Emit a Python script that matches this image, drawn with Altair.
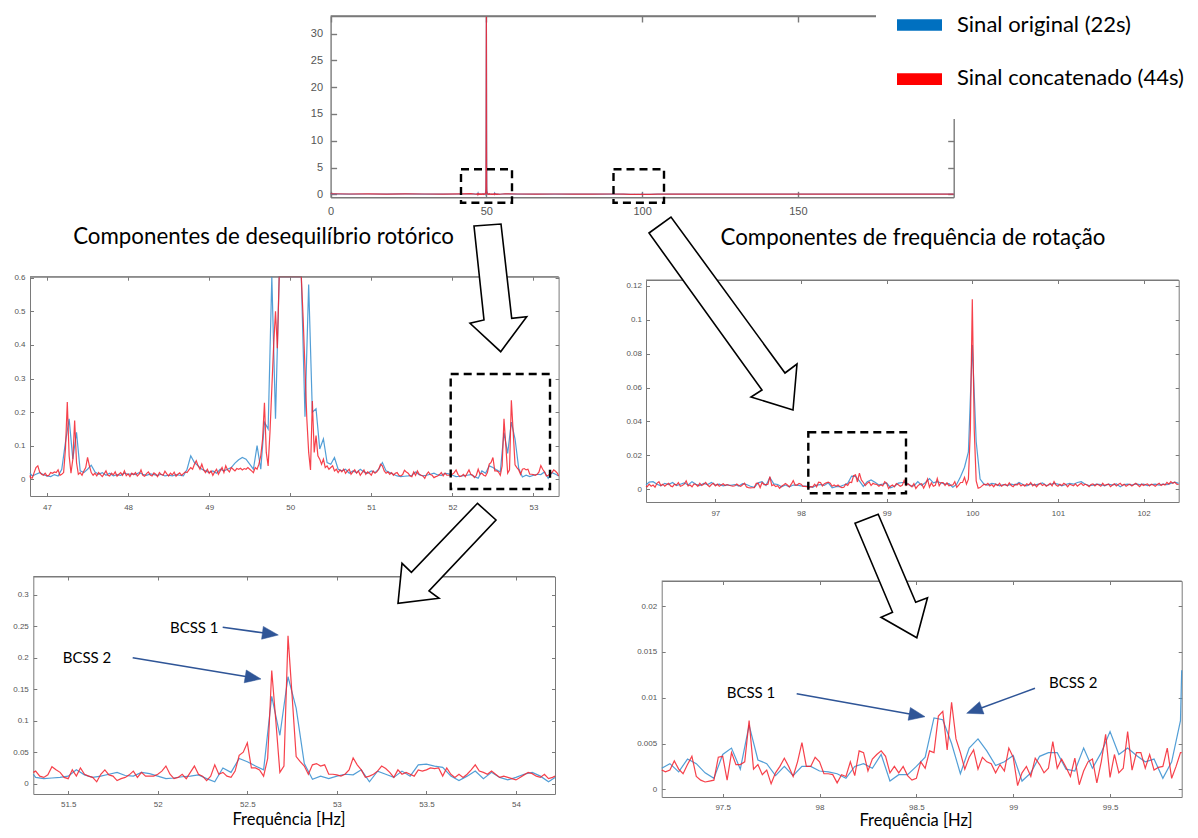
import altair as alt
import pandas as pd

W, H = 1182, 822
M = 8  # page margin: reference pixel -> canvas pixel

BLUE = "#3F93D2"
RED = "#F4202C"
FRAME = "#7A7A7A"
LABEL = "#555555"
NAVY = "#2F5597"

# ---------------- spectra ----------------
# blue: original signal (22 s)  -> bins at k/22 Hz
# red : concatenated signal (44 s) -> bins at k/44 Hz
BLUE_BINS_PER_HZ = 22.0
RED_BINS_PER_HZ = 44.0

blue_left_a_k0 = 1029
blue_left_a = [
    0.018, 0.010, 0.015, 0.020, 0.014, 0.010, 0.008, 0.014, 0.010, 0.030,
    0.110, 0.180, 0.060, 0.140, 0.025, 0.020, 0.030, 0.042, 0.022, 0.015,
    0.020, 0.012, 0.018, 0.010, 0.014, 0.012, 0.018, 0.015, 0.016, 0.014,
    0.020, 0.015, 0.012, 0.016, 0.014, 0.012, 0.015, 0.010, 0.012, 0.010,
    0.014, 0.012, 0.010, 0.030, 0.070, 0.050, 0.040, 0.030, 0.025, 0.020,
    0.025, 0.018, 0.030, 0.025, 0.030, 0.035, 0.048, 0.058, 0.065, 0.060,
    0.045, 0.030, 0.100, 0.030, 0.170, 0.150, 0.900, 0.180, 4.0, 12.0,
    25.0, 33.0, 22.0, 8.0, 1.5, 0.186, 0.580, 0.200, 0.210, 0.090,
    0.120, 0.050, 0.045, 0.065, 0.030, 0.025, 0.030, 0.018, 0.025, 0.020,
    0.030, 0.022, 0.018, 0.025, 0.020, 0.030, 0.050, 0.025, 0.020, 0.015,
]
blue_left_b_k0 = 1129
blue_left_b = [
    0.010, 0.008, 0.009, 0.010, 0.012, 0.022, 0.014, 0.010, 0.012, 0.015,
    0.018, 0.013, 0.012, 0.018, 0.016, 0.012, 0.008, 0.009, 0.011, 0.012,
    0.014, 0.008, 0.003, 0.025, 0.018, 0.040, 0.035, 0.028, 0.022, 0.139,
    0.077, 0.170, 0.120, 0.032, 0.007, 0.012, 0.008, 0.012, 0.015, 0.014,
    0.022, 0.003, 0.020, 0.015, 0.010, 0.020, 0.012, 0.030, 0.031, 0.028,
    0.026, 0.012, 0.005, 0.012, 0.020, 0.008, 0.018, 0.010, 0.006, 0.010,
    0.015, 0.018, 0.012, 0.003, 0.010,
]
red_left_a_k0 = 2058
red_left_a = [
    0.012, 0.005, 0.004, 0.020, 0.035, 0.040, 0.022, 0.015, 0.012, 0.018,
    0.010, 0.012, 0.020, 0.018, 0.022, 0.020, 0.028, 0.012, 0.015,
    0.020, 0.090, 0.230, 0.070, 0.018, 0.060, 0.175, 0.050, 0.015, 0.020,
    0.012, 0.025, 0.035, 0.065, 0.040, 0.020,
    0.012, 0.018, 0.010, 0.020, 0.014, 0.008, 0.016, 0.025, 0.012, 0.010,
    0.018, 0.013, 0.022, 0.009, 0.015, 0.020, 0.012, 0.025, 0.011, 0.016,
    0.008, 0.018, 0.014, 0.020, 0.010, 0.015, 0.028, 0.012, 0.009, 0.017,
    0.022, 0.013, 0.010, 0.019, 0.015, 0.008, 0.020, 0.014, 0.012, 0.024,
    0.016, 0.010, 0.018, 0.013, 0.021, 0.009, 0.015, 0.019, 0.012, 0.017,
    0.022,
    0.020, 0.028, 0.035, 0.030, 0.045, 0.055, 0.040, 0.030, 0.045, 0.028,
    0.020, 0.030, 0.018, 0.025, 0.012, 0.022, 0.030, 0.015, 0.025, 0.035,
    0.020, 0.040, 0.028, 0.022, 0.035, 0.030, 0.025, 0.032, 0.030, 0.033,
    0.028, 0.032, 0.030, 0.035, 0.030, 0.025, 0.020, 0.035, 0.030, 0.045,
    0.070, 0.120, 0.228, 0.080,
    0.040, 0.140, 0.270, 0.400, 0.500, 0.390, 2.0, 4.0, 8.0, 14.0,
    22.0, 30.0, 36.0, 30.0, 20.0, 10.0, 5.0, 1.5, 0.650, 0.480,
    0.330, 0.180, 0.080, 0.028, 0.233,
    0.080, 0.130, 0.070, 0.060, 0.045, 0.060, 0.035, 0.040, 0.030, 0.035,
    0.040, 0.025, 0.030, 0.020, 0.028, 0.022, 0.030, 0.018, 0.025, 0.030,
    0.015, 0.022, 0.028, 0.018, 0.025, 0.012, 0.020, 0.028, 0.015, 0.022,
    0.018, 0.012, 0.025, 0.018, 0.022, 0.030, 0.045, 0.040, 0.025, 0.018,
    0.022, 0.015, 0.020, 0.012, 0.018,
]
red_left_b_k0 = 2258
red_left_b = [
    0.020, 0.012, 0.010, 0.014, 0.027, 0.022, 0.018, 0.010, 0.008, 0.022,
    0.012, 0.025, 0.015, 0.012, 0.010, 0.003, 0.015, 0.022, 0.014, 0.012,
    0.005, 0.008, 0.010, 0.014, 0.020, 0.010, 0.018, 0.012, 0.012, 0.012,
    0.015, 0.020, 0.028, 0.015, 0.008, 0.010, 0.015, 0.008, 0.018, 0.028,
    0.015, 0.012, 0.005, 0.012, 0.030, 0.015, 0.018, 0.012, 0.010, 0.020,
    0.045, 0.050, 0.065, 0.025, 0.025, 0.022, 0.012, 0.040, 0.180, 0.100,
    0.018, 0.028, 0.235, 0.140, 0.043, 0.035, 0.028,
    0.015, 0.030, 0.032, 0.028, 0.030, 0.015, 0.015, 0.014, 0.012, 0.015,
    0.022, 0.041, 0.030, 0.022, 0.010, 0.012, 0.015, 0.020, 0.028, 0.024,
    0.018, 0.010, 0.022, 0.015, 0.018, 0.015, 0.012, 0.022, 0.020, 0.022,
    0.025, 0.024, 0.025, 0.012, 0.025, 0.015, 0.010, 0.015, 0.010, 0.015,
    0.022, 0.030, 0.020, 0.018, 0.015, 0.020, 0.015, 0.010, 0.012, 0.010,
    0.008, 0.006, 0.010, 0.014, 0.018, 0.016, 0.012, 0.010, 0.015, 0.008,
    0.010, 0.012,
]

blue_right_a_k0 = 2116
blue_right_a = [
    0.0025, 0.0042, 0.0045, 0.0030, 0.0020, 0.0035, 0.0028, 0.0040, 0.0022, 0.0030,
    0.0038, 0.0025, 0.0045, 0.0030, 0.0022, 0.0035, 0.0028, 0.0040, 0.0025, 0.0030,
    0.0020, 0.0026,
]
blue_right_b_k0 = 2138
blue_right_b = [
    0.0023, 0.0028, 0.0019, 0.0033, 0.0028, 0.0018, 0.0012, 0.0038, 0.0045, 0.0022,
    0.0070, 0.0032, 0.0028, 0.0015, 0.0025, 0.0015, 0.0025, 0.0025, 0.0020, 0.0019,
    0.0017, 0.0012, 0.0025, 0.0028, 0.0023, 0.0038, 0.0009, 0.0016, 0.0016, 0.0025,
    0.0035, 0.0078, 0.0076, 0.0050, 0.0017, 0.0045, 0.0055, 0.0042, 0.0026, 0.0030,
    0.0037, 0.0009, 0.0018, 0.0036, 0.0040, 0.0040, 0.0022, 0.0020, 0.0045, 0.0023,
    0.0040, 0.0063, 0.0038, 0.0045, 0.0037, 0.0030, 0.0033, 0.0012, 0.0030, 0.0075,
]
blue_right_c_k0 = 2198
blue_right_c = [
    0.0130, 0.0220, 0.0850, 0.0280, 0.0060, 0.0030, 0.0025, 0.0035, 0.0030, 0.0020,
    0.0028, 0.0022, 0.0030, 0.0025, 0.0040, 0.0028, 0.0020, 0.0032, 0.0025, 0.0030,
    0.0038, 0.0022, 0.0028, 0.0035, 0.0030, 0.0020, 0.0028, 0.0035, 0.0030, 0.0040,
    0.0045, 0.0030, 0.0022, 0.0025, 0.0030, 0.0028, 0.0020, 0.0030, 0.0025, 0.0032,
    0.0015, 0.0028, 0.0030, 0.0025, 0.0032, 0.0028, 0.0030, 0.0022, 0.0028, 0.0030,
    0.0025, 0.0030, 0.0028, 0.0035, 0.0042, 0.0035,
]
red_right_a_k0 = 4232
red_right_a = [
    0.0020, 0.0015, 0.0030, 0.0018, 0.0025, 0.0012, 0.0035, 0.0045, 0.0022, 0.0030,
    0.0018, 0.0028, 0.0035, 0.0020, 0.0015, 0.0030, 0.0025, 0.0040, 0.0018, 0.0022,
    0.0030, 0.0050, 0.0020, 0.0025, 0.0015, 0.0032, 0.0028, 0.0018, 0.0035, 0.0022,
    0.0030, 0.0040, 0.0025, 0.0015, 0.0028, 0.0035, 0.0020, 0.0030, 0.0018, 0.0025,
    0.0032, 0.0022, 0.0028, 0.0024,
]
red_right_b_k0 = 4276
red_right_b = [
    0.0021, 0.0019, 0.0021, 0.0031, 0.0022, 0.0017, 0.0027, 0.0036, 0.0014, 0.0010,
    0.0008, 0.0009, 0.0010, 0.0035, 0.0036, 0.0010, 0.0040, 0.0027, 0.0027, 0.0030,
    0.0075, 0.0022, 0.0027, 0.0016, 0.0021, 0.0006, 0.0018, 0.0025, 0.0034, 0.0025,
    0.0014, 0.0030, 0.0051, 0.0025, 0.0025, 0.0035, 0.0030, 0.0017, 0.0017, 0.0016,
    0.0007, 0.0016, 0.0014, 0.0030, 0.0015, 0.0042, 0.0040, 0.0020, 0.0033, 0.0038,
    0.0042, 0.0036,
    0.0018, 0.0025, 0.0018, 0.0025, 0.0015, 0.0010, 0.0012, 0.0030, 0.0023, 0.0042,
    0.0040, 0.0080, 0.0085, 0.0043, 0.0095, 0.0055, 0.0040, 0.0022, 0.0035, 0.0043,
    0.0022, 0.0035, 0.0030, 0.0028, 0.0018, 0.0027, 0.0020, 0.0045, 0.0035, 0.0004,
    0.0018, 0.0025, 0.0014, 0.0034, 0.0027, 0.0018, 0.0023, 0.0052, 0.0023, 0.0033,
    0.0024, 0.0014, 0.0034, 0.0005, 0.0020, 0.0030, 0.0033, 0.0007, 0.0030, 0.0060,
    0.0013, 0.0038, 0.0018, 0.0023, 0.0063, 0.0021, 0.0040, 0.0040, 0.0023, 0.0038,
    0.0021, 0.0024, 0.0025, 0.0045, 0.0012, 0.0025, 0.0040,
]
red_right_c_k0 = 4395
red_right_c = [
    0.0040, 0.0070, 0.0030, 0.0060, 0.0350, 0.1120, 0.0350, 0.0050, 0.0006, 0.0010,
    0.0020,
    0.0030, 0.0025, 0.0035, 0.0020, 0.0028, 0.0015, 0.0030, 0.0022, 0.0035, 0.0018,
    0.0025, 0.0030, 0.0020, 0.0038, 0.0022, 0.0015, 0.0030, 0.0025, 0.0035, 0.0020,
    0.0028, 0.0018, 0.0032, 0.0025, 0.0040, 0.0020, 0.0030, 0.0015, 0.0028, 0.0035,
    0.0022, 0.0030, 0.0018, 0.0025, 0.0035, 0.0020, 0.0045, 0.0025, 0.0018, 0.0030,
    0.0022, 0.0035, 0.0028, 0.0015, 0.0030, 0.0025, 0.0020, 0.0032, 0.0018, 0.0028,
    0.0035, 0.0022, 0.0030, 0.0025, 0.0015, 0.0028, 0.0032, 0.0020, 0.0030, 0.0025,
    0.0018, 0.0035, 0.0022, 0.0028, 0.0030, 0.0015, 0.0025, 0.0032, 0.0020, 0.0028,
    0.0035, 0.0022, 0.0030, 0.0018, 0.0025, 0.0030, 0.0020, 0.0028, 0.0035, 0.0025,
    0.0015, 0.0030, 0.0022, 0.0028, 0.0032, 0.0020, 0.0030, 0.0025, 0.0018, 0.0028,
    0.0035, 0.0022, 0.0030, 0.0025, 0.0040, 0.0030, 0.0045, 0.0035, 0.0042, 0.0030,
    0.0028,
]

# sparse background of the full 0-200 Hz spectrum (outside the zoomed bands)
top_bg_freq = [0, 6, 12, 18, 24, 30, 36, 42, 45, 56, 60, 66, 72, 78, 84, 90, 94,
               105, 110, 116, 122, 128, 134, 140, 146, 152, 158, 164, 170, 176,
               182, 188, 194, 200]
top_bg_blue = [0.08, 0.05, 0.06, 0.04, 0.07, 0.05, 0.04, 0.06, 0.09, 0.08, 0.05,
               0.04, 0.05, 0.03, 0.04, 0.05, 0.04, 0.04, 0.03, 0.04, 0.03, 0.04,
               0.03, 0.04, 0.03, 0.03, 0.04, 0.03, 0.04, 0.03, 0.03, 0.04, 0.03, 0.03]
top_bg_red = [0.10, 0.06, 0.08, 0.05, 0.09, 0.06, 0.05, 0.08, 0.12, 0.10, 0.06,
              0.05, 0.06, 0.04, 0.05, 0.06, 0.05, 0.05, 0.04, 0.05, 0.04, 0.05,
              0.04, 0.05, 0.04, 0.04, 0.05, 0.04, 0.05, 0.04, 0.04, 0.05, 0.04, 0.04]


def segment(k0, vals, per_hz):
    return [((k0 + i) / per_hz, v) for i, v in enumerate(vals)]


blue_pts = sorted(
    segment(blue_left_a_k0, blue_left_a, BLUE_BINS_PER_HZ)
    + segment(blue_left_b_k0, blue_left_b, BLUE_BINS_PER_HZ)
    + segment(blue_right_a_k0, blue_right_a, BLUE_BINS_PER_HZ)
    + segment(blue_right_b_k0, blue_right_b, BLUE_BINS_PER_HZ)
    + segment(blue_right_c_k0, blue_right_c, BLUE_BINS_PER_HZ)
)
red_pts = sorted(
    segment(red_left_a_k0, red_left_a, RED_BINS_PER_HZ)
    + segment(red_left_b_k0, red_left_b, RED_BINS_PER_HZ)
    + segment(red_right_a_k0, red_right_a, RED_BINS_PER_HZ)
    + segment(red_right_b_k0, red_right_b, RED_BINS_PER_HZ)
    + segment(red_right_c_k0, red_right_c, RED_BINS_PER_HZ)
)
blue_top = sorted(blue_pts + list(zip(top_bg_freq, top_bg_blue)))
red_top = sorted(red_pts + list(zip(top_bg_freq, top_bg_red)))


def window(pts, d0, d1):
    idx = [i for i, (f, _) in enumerate(pts) if d0 <= f <= d1]
    i0 = max(idx[0] - 1, 0)
    i1 = min(idx[-1] + 2, len(pts))
    sub = pts[i0:i1]
    return pd.DataFrame({"f": [p[0] for p in sub], "v": [p[1] for p in sub]})


# ---------------- panels (reference pixel geometry) ----------------
panels = [
    dict(blue=blue_top, red=red_top, xd=[0, 200], xr=[330.6, 953.7],
         yd=[-0.56, 33.27], yr=[197.3, 16.0],
         xt=[0, 50, 100, 150], yt=[0, 5, 10, 15, 20, 25, 30],
         fs=11, xpad=8, ypad=8, ts=6, fw=1.4),
    dict(blue=blue_pts, red=red_pts, xd=[46.79, 53.31], xr=[30.0, 558.6],
         yd=[-0.0497, 0.603], yr=[496.0, 276.7],
         xt=[47, 48, 49, 50, 51, 52, 53], yt=[0, 0.1, 0.2, 0.3, 0.4, 0.5, 0.6],
         fs=8, xpad=7, ypad=5, ts=3.5, fw=1),
    dict(blue=blue_pts, red=red_pts, xd=[96.19, 102.41], xr=[646.0, 1178.7],
         yd=[-0.0075, 0.1234], yr=[502.0, 280.0],
         xt=[97, 98, 99, 100, 101, 102], yt=[0, 0.02, 0.04, 0.06, 0.08, 0.1, 0.12],
         fs=8, xpad=7, ypad=4.5, ts=3.5, fw=1),
    dict(blue=blue_pts, red=red_pts, xd=[51.305, 54.218], xr=[33.3, 555.0],
         yd=[-0.0164, 0.3294], yr=[794.0, 576.5],
         xt=[51.5, 52, 52.5, 53, 53.5, 54], yt=[0, 0.05, 0.1, 0.15, 0.2, 0.25, 0.3],
         fs=8, xpad=6, ypad=5, ts=3.5, fw=1),
    dict(blue=blue_pts, red=red_pts, xd=[97.185, 99.87], xr=[661.7, 1181.7],
         yd=[-0.00084, 0.02274], yr=[797.0, 581.0],
         xt=[97.5, 98, 98.5, 99, 99.5], yt=[0, 0.005, 0.01, 0.015, 0.02],
         fs=8, xpad=6, ypad=5, ts=3.5, fw=1),
]


def panel_layers(p):
    x0, x1 = p["xr"][0] - M, p["xr"][1] - M
    yb, yt = p["yr"][0] - M, p["yr"][1] - M
    xs = alt.Scale(domain=p["xd"], range=[x0, x1], clamp=True, zero=False, nice=False)
    ys = alt.Scale(domain=p["yd"], range=[yb, yt], clamp=True, zero=False, nice=False)
    base = dict(title=None, grid=False, format=".6~g", labelFlush=False, labelOverlap=False,
                domainColor=FRAME, tickColor=FRAME, domainWidth=p["fw"], tickWidth=p["fw"],
                labelColor=LABEL, labelFont="Liberation Sans", labelFontSize=p["fs"])
    lab_x = alt.Axis(orient="bottom", offset=yb - H, values=p["xt"], ticks=False,
                     domain=False, labelPadding=p["xpad"], **base)
    lab_y = alt.Axis(orient="left", offset=-x0, values=p["yt"], ticks=False,
                     domain=False, labelPadding=p["ypad"], **base)
    tk = dict(labels=False, ticks=True, tickSize=p["ts"], domain=True)
    bot = alt.Axis(orient="top", offset=-yb, values=p["xt"], **tk, **base)
    lef = alt.Axis(orient="right", offset=x0 - W, values=p["yt"], **tk, **base)
    top = alt.Axis(orient="bottom", offset=yt - H, values=p["xt"], **tk, **base)
    rig = alt.Axis(orient="left", offset=-x1, values=p["yt"], **tk, **base)

    lb = alt.Chart(window(p["blue"], *p["xd"])).mark_line(
        color=BLUE, strokeWidth=1.2, opacity=0.9).encode(
        x=alt.X("f:Q", scale=xs, axis=lab_x), y=alt.Y("v:Q", scale=ys, axis=lab_y))
    lr = alt.Chart(window(p["red"], *p["xd"])).mark_line(
        color=RED, strokeWidth=1.2, opacity=0.85).encode(
        x=alt.X("f:Q", scale=xs, axis=bot), y=alt.Y("v:Q", scale=ys, axis=lef))
    fr = alt.Chart(pd.DataFrame({"a": [p["xd"][0]], "b": [p["xd"][1]], "c": [p["yd"][1]]})).mark_rule(
        color=FRAME, strokeWidth=p["fw"]).encode(
        x=alt.X("a:Q", scale=xs, axis=top), x2="b:Q", y=alt.Y("c:Q", scale=ys, axis=rig))
    return [lb, lr, fr]


layers = []
for p in panels:
    layers += panel_layers(p)

# ---------------- annotations (pixel positions in the reference) ----------------
def px(v):
    return v - M


def pos(field):
    return alt.X(field, scale=None, axis=None)


def posy(field):
    return alt.Y(field, scale=None, axis=None)


boxes = pd.DataFrame({
    "x": [px(461), px(613.5), px(450.7), px(808.3)],
    "x2": [px(512), px(664), px(550), px(906)],
    "y": [px(169.3), px(169.3), px(374), px(432.3)],
    "y2": [px(202.7), px(202.7), px(489), px(493.3)],
})
layers.append(alt.Chart(boxes).mark_rect(filled=False, stroke="black", strokeWidth=2.4,
                                          strokeDash=[8, 5]).encode(
    x=pos("x:Q"), x2="x2:Q", y=posy("y:Q"), y2="y2:Q"))

# white legend backdrop over the top-right corner of the frame
legbg = pd.DataFrame({"x": [px(876)], "x2": [W], "y": [0], "y2": [px(119)]})
layers.append(alt.Chart(legbg).mark_rect(color="white").encode(
    x=pos("x:Q"), x2="x2:Q", y=posy("y:Q"), y2="y2:Q"))

swatch = pd.DataFrame({
    "x": [px(897), px(897)], "x2": [px(942), px(942)],
    "y": [px(19.3), px(73.3)], "y2": [px(30.7), px(85)],
    "c": ["#0070C0", "#FF0000"],
})
layers.append(alt.Chart(swatch).mark_rect().encode(
    x=pos("x:Q"), x2="x2:Q", y=posy("y:Q"), y2="y2:Q",
    color=alt.Color("c:N", scale=None, legend=None)))


def poly_path(pts):
    return "M" + " L".join(f"{px(a):.1f},{px(b):.1f}" for a, b in pts) + " Z"


block_arrows = [
    [(474, 226), (501, 224), (511.7, 318.3), (526.7, 316.7), (500.7, 351.7), (470, 323.3), (484, 320)],
    [(649, 233), (671, 217), (785, 373), (797, 364), (793, 410), (751, 397), (762, 390)],
    [(477.5, 503.3), (496, 520), (429, 591), (439, 598.3), (398, 603.3), (402, 563.3), (411.4, 572.3)],
    [(855, 523.3), (878.2, 514.3), (915.7, 602.3), (927.5, 597.7), (916.8, 637.7), (881, 617.3), (892.5, 612.3)],
]
arr = pd.DataFrame({"x": [0] * 4, "y": [0] * 4, "path": [poly_path(a) for a in block_arrows]})
layers.append(alt.Chart(arr).mark_point(filled=True, fill="white", stroke="black", strokeWidth=1.6,
                                         size=4, opacity=1).encode(
    x=pos("x:Q"), y=posy("y:Q"), shape=alt.Shape("path:N", scale=None, legend=None)))

# BCSS pointer arrows: (start, tip)
pointers = [
    ((222.7, 627.3), (278.3, 635.0)),
    ((132.7, 657.7), (261.0, 679.0)),
    ((796.7, 693.7), (925.0, 716.7)),
    ((1035.0, 688.3), (966.7, 713.3)),
]
HL, HW = 16.0, 6.5
rules, heads = [], []
for (sx, sy), (tx, ty) in pointers:
    dx, dy = tx - sx, ty - sy
    n = (dx * dx + dy * dy) ** 0.5
    ux, uy = dx / n, dy / n
    bx, by = tx - ux * HL, ty - uy * HL
    rules.append((px(sx), px(sy), px(bx + ux * 2), px(by + uy * 2)))
    c1 = (bx - uy * HW, by + ux * HW)
    c2 = (bx + uy * HW, by - ux * HW)
    heads.append(poly_path([(tx, ty), c1, c2]))
rdf = pd.DataFrame(rules, columns=["x", "y", "x2", "y2"])
layers.append(alt.Chart(rdf).mark_rule(color=NAVY, strokeWidth=1.6).encode(
    x=pos("x:Q"), y=posy("y:Q"), x2="x2:Q", y2="y2:Q"))
hdf = pd.DataFrame({"x": [0] * 4, "y": [0] * 4, "path": heads})
layers.append(alt.Chart(hdf).mark_point(filled=True, fill=NAVY, stroke=NAVY, strokeWidth=0.5,
                                         size=4, opacity=1).encode(
    x=pos("x:Q"), y=posy("y:Q"), shape=alt.Shape("path:N", scale=None, legend=None)))


def text_layer(rows, size, align):
    df = pd.DataFrame(rows, columns=["t", "x", "y"])
    df["x"] = df["x"] - M
    df["y"] = df["y"] - M
    return alt.Chart(df).mark_text(font="Lato", fontSize=size, align=align, baseline="middle",
                                   color="black").encode(x=pos("x:Q"), y=posy("y:Q"), text="t:N")


layers.append(text_layer([("Componentes de desequilíbrio rotórico", 263.6, 237),
                          ("Componentes de frequência de rotação", 913, 238)], 22.3, "center"))
layers.append(text_layer([("Sinal original (22s)", 957, 25),
                          ("Sinal concatenado (44s)", 957, 78)], 22, "left"))
layers.append(text_layer([("BCSS 1", 170, 628), ("BCSS 2", 62.7, 657.5),
                          ("BCSS 1", 726.7, 692.5), ("BCSS 2", 1049, 682.5)], 15, "left"))
layers.append(text_layer([("Frequência [Hz]", 289, 820),
                          ("Frequência [Hz]", 916, 821)], 16.5, "center"))

chart = alt.layer(*layers).resolve_scale(x="independent", y="independent").properties(
    width=W, height=H, autosize=alt.AutoSizeParams(type="none"), padding=0,
    background="white").configure_view(strokeWidth=0)

chart.save("out.html", embed_options={"renderer": "svg", "actions": False})
